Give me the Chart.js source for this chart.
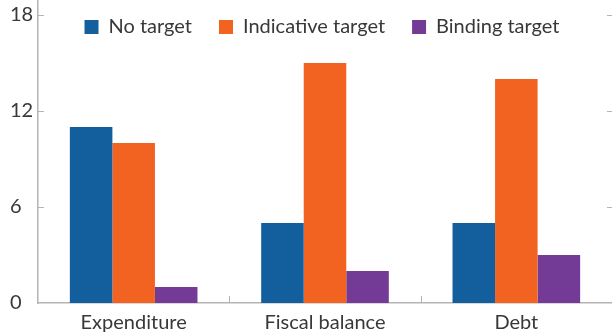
<!DOCTYPE html>
<html>
<head>
<meta charset="utf-8">
<script src="https://cdn.jsdelivr.net/npm/chart.js"></script>
<style>
  html, body { margin: 0; padding: 0; background: #fff; }
  #wrap { width: 612px; height: 335px; }
</style>
</head>
<body>
<div id="wrap"><canvas id="chart"></canvas></div>
<script>
// datos
const categories = ['Expenditure', 'Fiscal balance', 'Debt'];
const noTarget = [11, 5, 5];
const indicativeTarget = [10, 15, 14];
const bindingTarget = [1, 2, 3];
const yTicks = [0, 6, 12, 18];

const axisColor = '#b4b4b4';
const textColor = '#383838';
const fontSize = 20;

// marcas cortas hacia dentro del area (ejes y separadores de categorias)
const innerTicks = {
  id: 'innerTicks',
  afterDraw(chart) {
    const ctx = chart.ctx;
    const x = chart.scales.x;
    const y = chart.scales.y;
    const area = chart.chartArea;
    ctx.save();
    ctx.strokeStyle = axisColor;
    ctx.lineWidth = 1;
    ctx.beginPath();
    yTicks.slice(1).forEach(v => {
      const py = Math.round(y.getPixelForValue(v)) + 0.5;
      ctx.moveTo(area.left, py);
      ctx.lineTo(area.left + 6, py);
      ctx.moveTo(area.right - 5, py);
      ctx.lineTo(area.right, py);
    });
    for (let i = 0; i < categories.length - 1; i++) {
      const px = Math.round((x.getPixelForValue(i) + x.getPixelForValue(i + 1)) / 2) + 0.5;
      ctx.moveTo(px, area.bottom);
      ctx.lineTo(px, area.bottom - 7);
    }
    ctx.stroke();
    ctx.restore();
  }
};

// leyenda horizontal dentro del area del grafico
const legendInside = {
  id: 'legendInside',
  afterInit(chart) {
    if (chart.legend) chart.legend.isHorizontal = () => true;
  },
  afterLayout(chart) {
    const lg = chart.legend;
    if (!lg) return;
    lg.top -= 10;
    lg.left += 35;
    lg.right += 35;
  }
};

function noPadding(scale) {
  scale.paddingTop = 0;
  scale.paddingBottom = 0;
  scale.paddingLeft = 0;
  scale.paddingRight = 0;
}

new Chart(document.getElementById('chart'), {
  type: 'bar',
  data: {
    labels: categories,
    datasets: [
      { label: 'No target', data: noTarget, backgroundColor: '#135f9e' },
      { label: 'Indicative target', data: indicativeTarget, backgroundColor: '#f26322' },
      { label: 'Binding target', data: bindingTarget, backgroundColor: '#743b96' }
    ]
  },
  options: {
    responsive: true,
    maintainAspectRatio: false,
    animation: false,
    layout: { padding: { left: 10, right: 0, top: 0, bottom: 0 } },
    datasets: { bar: { barPercentage: 1, categoryPercentage: 0.667 } },
    scales: {
      x: {
        grid: { display: false, drawTicks: false },
        border: { display: true, color: axisColor, width: 1.5 },
        ticks: { color: textColor, padding: 8, font: { family: 'Lato', size: fontSize } },
        afterFit(scale) { scale.height = 32; noPadding(scale); }
      },
      y: {
        min: 0,
        max: 18.9375,
        grid: { display: false, drawTicks: false },
        border: { display: true, color: axisColor, width: 1.5 },
        ticks: {
          stepSize: 6,
          includeBounds: false,
          crossAlign: 'far',
          color: textColor,
          font: { family: 'Lato', size: fontSize }
        },
        afterFit(scale) { scale.width = 28; noPadding(scale); }
      }
    },
    plugins: {
      legend: {
        position: 'chartArea',
        align: 'center',
        labels: {
          boxWidth: 14,
          boxHeight: 14,
          padding: 27,
          color: textColor,
          font: { family: 'Lato', size: fontSize }
        }
      },
      tooltip: { enabled: false }
    }
  },
  plugins: [innerTicks, legendInside]
});
</script>
</body>
</html>
